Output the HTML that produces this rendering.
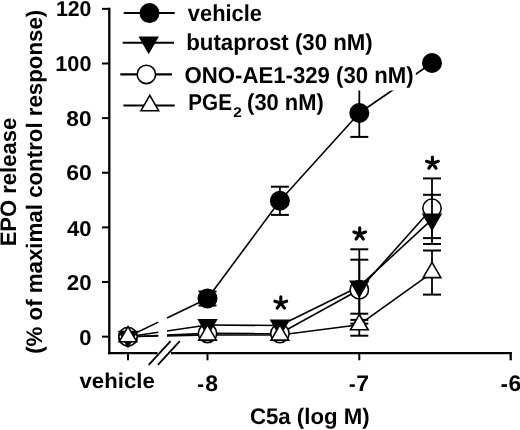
<!DOCTYPE html><html><head><meta charset="utf-8"><style>html,body{margin:0;padding:0;background:#fff;width:520px;height:430px;overflow:hidden}svg{display:block;will-change:transform}</style></head><body><svg width="520" height="430" viewBox="0 0 520 430">
<rect width="520" height="430" fill="#fff"/>
<line x1="109.30" y1="7.80" x2="109.30" y2="354.30" stroke="#000" stroke-width="2.3"/>
<line x1="102.00" y1="336.65" x2="109.30" y2="336.65" stroke="#000" stroke-width="2.0"/>
<line x1="102.00" y1="282.02" x2="109.30" y2="282.02" stroke="#000" stroke-width="2.0"/>
<line x1="102.00" y1="227.38" x2="109.30" y2="227.38" stroke="#000" stroke-width="2.0"/>
<line x1="102.00" y1="172.75" x2="109.30" y2="172.75" stroke="#000" stroke-width="2.0"/>
<line x1="102.00" y1="118.11" x2="109.30" y2="118.11" stroke="#000" stroke-width="2.0"/>
<line x1="102.00" y1="63.48" x2="109.30" y2="63.48" stroke="#000" stroke-width="2.0"/>
<line x1="102.00" y1="8.85" x2="109.30" y2="8.85" stroke="#000" stroke-width="2.0"/>
<line x1="108.15" y1="353.15" x2="157.50" y2="353.15" stroke="#000" stroke-width="2.3"/>
<line x1="171.00" y1="353.15" x2="511.70" y2="353.15" stroke="#000" stroke-width="2.3"/>
<line x1="128.00" y1="353.15" x2="128.00" y2="360.30" stroke="#000" stroke-width="2.0"/>
<line x1="207.50" y1="353.15" x2="207.50" y2="360.30" stroke="#000" stroke-width="2.0"/>
<line x1="359.30" y1="353.15" x2="359.30" y2="360.30" stroke="#000" stroke-width="2.0"/>
<line x1="510.70" y1="352.00" x2="510.70" y2="360.30" stroke="#000" stroke-width="2.3"/>
<line x1="148.70" y1="364.80" x2="170.60" y2="341.20" stroke="#000" stroke-width="1.8"/>
<line x1="157.90" y1="364.80" x2="179.80" y2="341.20" stroke="#000" stroke-width="1.8"/>
<line x1="128.00" y1="336.70" x2="158.30" y2="322.14" stroke="#000" stroke-width="1.6"/>
<line x1="167.00" y1="317.96" x2="207.50" y2="298.50" stroke="#000" stroke-width="1.6"/>
<line x1="207.50" y1="298.50" x2="279.90" y2="200.80" stroke="#000" stroke-width="1.6"/>
<line x1="279.90" y1="200.80" x2="359.30" y2="113.00" stroke="#000" stroke-width="1.6"/>
<line x1="359.30" y1="113.00" x2="432.00" y2="63.00" stroke="#000" stroke-width="1.6"/>
<line x1="128.00" y1="336.70" x2="158.30" y2="335.44" stroke="#000" stroke-width="1.6"/>
<line x1="167.00" y1="335.08" x2="207.50" y2="333.40" stroke="#000" stroke-width="1.6"/>
<line x1="207.50" y1="333.40" x2="279.90" y2="333.50" stroke="#000" stroke-width="1.6"/>
<line x1="279.90" y1="333.50" x2="359.30" y2="289.80" stroke="#000" stroke-width="1.6"/>
<line x1="359.30" y1="289.80" x2="432.00" y2="208.25" stroke="#000" stroke-width="1.6"/>
<line x1="128.00" y1="336.70" x2="158.30" y2="332.24" stroke="#000" stroke-width="1.6"/>
<line x1="167.00" y1="330.96" x2="207.50" y2="325.00" stroke="#000" stroke-width="1.6"/>
<line x1="207.50" y1="325.00" x2="279.90" y2="325.50" stroke="#000" stroke-width="1.6"/>
<line x1="279.90" y1="325.50" x2="359.30" y2="286.45" stroke="#000" stroke-width="1.6"/>
<line x1="359.30" y1="286.45" x2="432.00" y2="219.40" stroke="#000" stroke-width="1.6"/>
<line x1="128.00" y1="336.70" x2="158.30" y2="336.05" stroke="#000" stroke-width="1.6"/>
<line x1="167.00" y1="335.87" x2="207.50" y2="335.00" stroke="#000" stroke-width="1.6"/>
<line x1="207.50" y1="335.00" x2="279.90" y2="335.00" stroke="#000" stroke-width="1.6"/>
<line x1="279.90" y1="335.00" x2="359.30" y2="324.70" stroke="#000" stroke-width="1.6"/>
<line x1="359.30" y1="324.70" x2="432.00" y2="272.55" stroke="#000" stroke-width="1.6"/>
<line x1="207.50" y1="291.50" x2="207.50" y2="305.50" stroke="#000" stroke-width="1.8"/>
<line x1="198.50" y1="291.50" x2="216.50" y2="291.50" stroke="#000" stroke-width="2.0"/>
<line x1="198.50" y1="305.50" x2="216.50" y2="305.50" stroke="#000" stroke-width="2.0"/>
<line x1="279.90" y1="186.70" x2="279.90" y2="214.90" stroke="#000" stroke-width="1.8"/>
<line x1="270.90" y1="186.70" x2="288.90" y2="186.70" stroke="#000" stroke-width="2.0"/>
<line x1="270.90" y1="214.90" x2="288.90" y2="214.90" stroke="#000" stroke-width="2.0"/>
<line x1="359.30" y1="89.10" x2="359.30" y2="136.90" stroke="#000" stroke-width="1.8"/>
<line x1="350.30" y1="136.90" x2="368.30" y2="136.90" stroke="#000" stroke-width="2.0"/>
<circle cx="128.00" cy="336.70" r="9.2" fill="#000" stroke="#000" stroke-width="1.6"/>
<circle cx="207.50" cy="298.50" r="9.2" fill="#000" stroke="#000" stroke-width="1.6"/>
<circle cx="279.90" cy="200.80" r="9.2" fill="#000" stroke="#000" stroke-width="1.6"/>
<circle cx="359.30" cy="113.00" r="9.2" fill="#000" stroke="#000" stroke-width="1.6"/>
<circle cx="432.00" cy="63.00" r="9.2" fill="#000" stroke="#000" stroke-width="1.6"/>
<line x1="359.30" y1="259.70" x2="359.30" y2="319.90" stroke="#000" stroke-width="1.8"/>
<line x1="350.30" y1="259.70" x2="368.30" y2="259.70" stroke="#000" stroke-width="2.0"/>
<line x1="350.30" y1="319.90" x2="368.30" y2="319.90" stroke="#000" stroke-width="2.0"/>
<line x1="432.00" y1="178.40" x2="432.00" y2="238.10" stroke="#000" stroke-width="1.8"/>
<line x1="423.00" y1="178.40" x2="441.00" y2="178.40" stroke="#000" stroke-width="2.0"/>
<line x1="423.00" y1="238.10" x2="441.00" y2="238.10" stroke="#000" stroke-width="2.0"/>
<circle cx="128.00" cy="336.70" r="9.2" fill="#fff" stroke="#000" stroke-width="1.6"/>
<circle cx="207.50" cy="333.40" r="9.2" fill="#fff" stroke="#000" stroke-width="1.6"/>
<circle cx="279.90" cy="333.50" r="9.2" fill="#fff" stroke="#000" stroke-width="1.6"/>
<circle cx="359.30" cy="289.80" r="9.2" fill="#fff" stroke="#000" stroke-width="1.6"/>
<circle cx="432.00" cy="208.25" r="9.2" fill="#fff" stroke="#000" stroke-width="1.6"/>
<line x1="359.30" y1="249.30" x2="359.30" y2="323.60" stroke="#000" stroke-width="1.8"/>
<line x1="350.30" y1="249.30" x2="368.30" y2="249.30" stroke="#000" stroke-width="2.0"/>
<line x1="350.30" y1="323.60" x2="368.30" y2="323.60" stroke="#000" stroke-width="2.0"/>
<line x1="432.00" y1="194.80" x2="432.00" y2="244.00" stroke="#000" stroke-width="1.8"/>
<line x1="423.00" y1="194.80" x2="441.00" y2="194.80" stroke="#000" stroke-width="2.0"/>
<line x1="423.00" y1="244.00" x2="441.00" y2="244.00" stroke="#000" stroke-width="2.0"/>
<polygon points="128.00,346.90 136.83,331.60 119.17,331.60" fill="#000" stroke="#000" stroke-width="1.6"/>
<polygon points="207.50,335.20 216.33,319.90 198.67,319.90" fill="#000" stroke="#000" stroke-width="1.6"/>
<polygon points="279.90,335.70 288.73,320.40 271.07,320.40" fill="#000" stroke="#000" stroke-width="1.6"/>
<polygon points="359.30,296.65 368.13,281.35 350.47,281.35" fill="#000" stroke="#000" stroke-width="1.6"/>
<polygon points="432.00,229.60 440.83,214.30 423.17,214.30" fill="#000" stroke="#000" stroke-width="1.6"/>
<line x1="359.30" y1="313.70" x2="359.30" y2="335.70" stroke="#000" stroke-width="1.8"/>
<line x1="350.30" y1="313.70" x2="368.30" y2="313.70" stroke="#000" stroke-width="2.0"/>
<line x1="350.30" y1="335.70" x2="368.30" y2="335.70" stroke="#000" stroke-width="2.0"/>
<line x1="432.00" y1="250.50" x2="432.00" y2="294.60" stroke="#000" stroke-width="1.8"/>
<line x1="423.00" y1="250.50" x2="441.00" y2="250.50" stroke="#000" stroke-width="2.0"/>
<line x1="423.00" y1="294.60" x2="441.00" y2="294.60" stroke="#000" stroke-width="2.0"/>
<polygon points="128.00,326.50 136.83,341.80 119.17,341.80" fill="#fff" stroke="#000" stroke-width="1.6"/>
<polygon points="207.50,324.80 216.33,340.10 198.67,340.10" fill="#fff" stroke="#000" stroke-width="1.6"/>
<polygon points="279.90,324.80 288.73,340.10 271.07,340.10" fill="#fff" stroke="#000" stroke-width="1.6"/>
<polygon points="359.30,314.50 368.13,329.80 350.47,329.80" fill="#fff" stroke="#000" stroke-width="1.6"/>
<polygon points="432.00,262.35 440.83,277.65 423.17,277.65" fill="#fff" stroke="#000" stroke-width="1.6"/>
<path d="M280.80,303.10L280.80,296.90M280.80,303.10L286.70,301.18M280.80,303.10L284.44,308.12M280.80,303.10L277.16,308.12M280.80,303.10L274.90,301.18" stroke="#000" stroke-width="3.1" stroke-linecap="round" fill="none"/>
<path d="M359.70,234.00L359.70,227.80M359.70,234.00L365.60,232.08M359.70,234.00L363.34,239.02M359.70,234.00L356.06,239.02M359.70,234.00L353.80,232.08" stroke="#000" stroke-width="3.1" stroke-linecap="round" fill="none"/>
<path d="M432.40,163.20L432.40,157.00M432.40,163.20L438.30,161.28M432.40,163.20L436.04,168.22M432.40,163.20L428.76,168.22M432.40,163.20L426.50,161.28" stroke="#000" stroke-width="3.1" stroke-linecap="round" fill="none"/>
<rect x="184" y="58" width="231.8" height="32.5" fill="#fff"/>
<line x1="123.70" y1="13.00" x2="174.70" y2="13.00" stroke="#000" stroke-width="2.1"/>
<circle cx="149.50" cy="13.10" r="9.2" fill="#000" stroke="#000" stroke-width="1.6"/>
<line x1="122.70" y1="42.70" x2="174.00" y2="42.70" stroke="#000" stroke-width="2.1"/>
<polygon points="148.70,52.70 157.53,37.40 139.87,37.40" fill="#000" stroke="#000" stroke-width="1.6"/>
<line x1="120.30" y1="74.40" x2="171.90" y2="74.40" stroke="#000" stroke-width="2.1"/>
<circle cx="146.40" cy="74.40" r="9.2" fill="#fff" stroke="#000" stroke-width="1.6"/>
<line x1="123.40" y1="105.50" x2="174.70" y2="105.50" stroke="#000" stroke-width="2.1"/>
<polygon points="149.80,95.40 158.63,110.70 140.97,110.70" fill="#fff" stroke="#000" stroke-width="1.6"/>
<text x="187.86" y="20.60" font-family="Liberation Sans, sans-serif" font-weight="bold" text-rendering="geometricPrecision" font-size="23" textLength="74.05" lengthAdjust="spacingAndGlyphs">vehicle</text>
<text x="186.25" y="49.60" font-family="Liberation Sans, sans-serif" font-weight="bold" text-rendering="geometricPrecision" font-size="23" textLength="186.51" lengthAdjust="spacingAndGlyphs">butaprost (30 nM)</text>
<text x="184.54" y="82.50" font-family="Liberation Sans, sans-serif" font-weight="bold" text-rendering="geometricPrecision" font-size="23" textLength="229.04" lengthAdjust="spacingAndGlyphs">ONO-AE1-329 (30 nM)</text>
<text x="188.35" y="110.20" font-family="Liberation Sans, sans-serif" font-weight="bold" text-rendering="geometricPrecision" font-size="23" textLength="43.59" lengthAdjust="spacingAndGlyphs">PGE</text>
<text x="233.35" y="116.60" font-family="Liberation Sans, sans-serif" font-weight="bold" text-rendering="geometricPrecision" font-size="14" textLength="8.55" lengthAdjust="spacingAndGlyphs">2</text>
<text x="247.11" y="110.20" font-family="Liberation Sans, sans-serif" font-weight="bold" text-rendering="geometricPrecision" font-size="23" textLength="76.58" lengthAdjust="spacingAndGlyphs">(30 nM)</text>
<text x="55.96" y="16.00" font-family="Liberation Sans, sans-serif" font-weight="bold" text-rendering="geometricPrecision" font-size="21.5" textLength="35.50" lengthAdjust="spacingAndGlyphs">120</text>
<text x="55.34" y="71.40" font-family="Liberation Sans, sans-serif" font-weight="bold" text-rendering="geometricPrecision" font-size="21.5" textLength="36.14" lengthAdjust="spacingAndGlyphs">100</text>
<text x="66.31" y="125.50" font-family="Liberation Sans, sans-serif" font-weight="bold" text-rendering="geometricPrecision" font-size="21.5" textLength="25.27" lengthAdjust="spacingAndGlyphs">80</text>
<text x="66.30" y="180.40" font-family="Liberation Sans, sans-serif" font-weight="bold" text-rendering="geometricPrecision" font-size="21.5" textLength="25.59" lengthAdjust="spacingAndGlyphs">60</text>
<text x="67.14" y="235.70" font-family="Liberation Sans, sans-serif" font-weight="bold" text-rendering="geometricPrecision" font-size="21.5" textLength="24.50" lengthAdjust="spacingAndGlyphs">40</text>
<text x="66.82" y="290.10" font-family="Liberation Sans, sans-serif" font-weight="bold" text-rendering="geometricPrecision" font-size="21.5" textLength="24.84" lengthAdjust="spacingAndGlyphs">20</text>
<text x="79.33" y="345.30" font-family="Liberation Sans, sans-serif" font-weight="bold" text-rendering="geometricPrecision" font-size="21.5" textLength="12.26" lengthAdjust="spacingAndGlyphs">0</text>
<text x="79.54" y="388.30" font-family="Liberation Sans, sans-serif" font-weight="bold" text-rendering="geometricPrecision" font-size="21.3" textLength="75.23" lengthAdjust="spacingAndGlyphs">vehicle</text>
<text x="205.24" y="390.80" font-family="Liberation Sans, sans-serif" font-weight="bold" text-rendering="geometricPrecision" font-size="22.5" textLength="12.74" lengthAdjust="spacingAndGlyphs">8</text>
<text x="356.18" y="390.90" font-family="Liberation Sans, sans-serif" font-weight="bold" text-rendering="geometricPrecision" font-size="22.5" textLength="12.75" lengthAdjust="spacingAndGlyphs">7</text>
<text x="508.64" y="390.80" font-family="Liberation Sans, sans-serif" font-weight="bold" text-rendering="geometricPrecision" font-size="22.5" textLength="12.74" lengthAdjust="spacingAndGlyphs">6</text>
<text x="249.91" y="424.00" font-family="Liberation Sans, sans-serif" font-weight="bold" text-rendering="geometricPrecision" font-size="22.5" textLength="119.82" lengthAdjust="spacingAndGlyphs">C5a (log M)</text>
<text x="0" y="0" transform="translate(15.50,246.37) rotate(-90)" font-family="Liberation Sans, sans-serif" font-weight="bold" text-rendering="geometricPrecision" font-size="22.5" textLength="128.59" lengthAdjust="spacingAndGlyphs">EPO release</text>
<text x="0" y="0" transform="translate(42.40,353.84) rotate(-90)" font-family="Liberation Sans, sans-serif" font-weight="bold" text-rendering="geometricPrecision" font-size="22.5" textLength="344.10" lengthAdjust="spacingAndGlyphs">(% of maximal control response)</text>
<rect x="198.1" y="384.4" width="5.10" height="2.60" fill="#000"/>
<rect x="349.7" y="384.3" width="5.10" height="2.60" fill="#000"/>
<rect x="501.5" y="384.2" width="5.50" height="2.70" fill="#000"/>
</svg></body></html>
